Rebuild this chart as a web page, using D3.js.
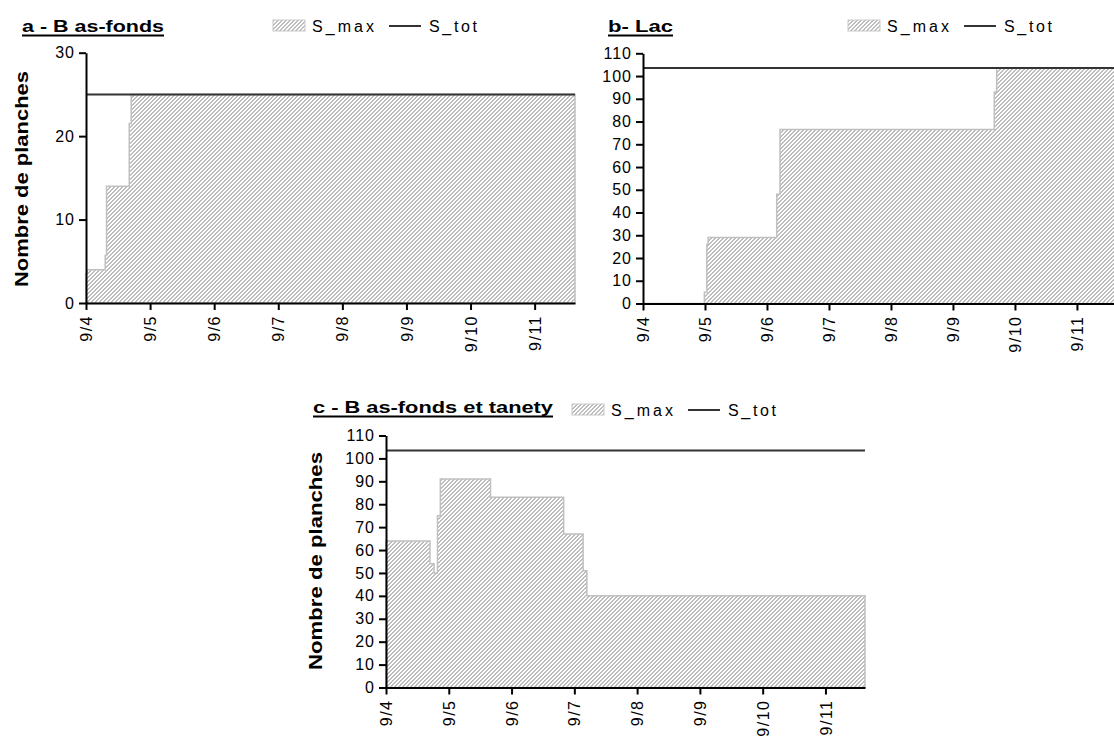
<!DOCTYPE html>
<html><head><meta charset="utf-8">
<script src="https://cdn.jsdelivr.net/npm/d3@7"></script>
<style>
body{margin:0;background:#fff}
svg{display:block}
text{font-family:"Liberation Sans",Arial,sans-serif;fill:#000}
</style></head>
<body><svg id="chart" width="1114" height="740"></svg>
<script>
// ---- data ----
const dateLabels = ["9/4","9/5","9/6","9/7","9/8","9/9","9/10","9/11"];
const lastDay = 7.63; // days after 9/4 at end of record
const seriesNames = ["S_max","S_tot"];

const titleA = "a - B as-fonds";
const daysA = [0, 0.02, 0.02, 0.30, 0.30, 0.32, 0.32, 0.675, 0.675, 0.705, 0.705, 7.63];
const smaxA = [3.5, 3.5, 4, 4, 5.7, 5.7, 14, 14, 21.5, 21.5, 25, 25];
const stotA = 25;
const yTicksA = [0, 10, 20, 30];

const titleB = "b- Lac";
const daysB = [0, 0.99, 0.99, 1.03, 1.03, 1.05, 1.05, 2.157, 2.157, 2.21, 2.21, 5.666, 5.666, 5.705, 5.705, 7.63];
const smaxB = [0, 0, 5, 5, 26, 26, 29, 29, 48, 48, 76.5, 76.5, 93, 93, 103.5, 103.5];
const stotB = 103.5;
const yTicksB = [0,10,20,30,40,50,60,70,80,90,100,110];

const titleC = "c - B as-fonds et tanety";
const daysC = [0, 0.70, 0.70, 0.765, 0.765, 0.82, 0.82, 0.865, 0.865, 1.665, 1.665, 2.83, 2.83, 3.14, 3.14, 3.20, 3.20, 7.63];
const smaxC = [64, 64, 54, 54, 50, 50, 75, 75, 91, 91, 83, 83, 67, 67, 51, 51, 40, 40];
const stotC = 103.5;
const yTicksC = [0,10,20,30,40,50,60,70,80,90,100,110];

const yTitle = "Nombre de planches";

// ---- layout (positions only) ----
const panels = [
  {title:titleA, days:daysA, vals:smaxA, stot:stotA, yticks:yTicksA,
   x0:86, x1:575, y0:303, y1:52.7, titleX:22, titleW:142, titleY:32,
   legX:273, legY:32, yTitleX:22, yTitleY:179, yTitleW:216},
  {title:titleB, days:daysB, vals:smaxB, stot:stotB, yticks:yTicksB,
   x0:643, x1:1116, y0:303.5, y1:53.3, titleX:608, titleW:65, titleY:32,
   legX:848, legY:32, yTitleX:null},
  {title:titleC, days:daysC, vals:smaxC, stot:stotC, yticks:yTicksC,
   x0:386, x1:865, y0:687.5, y1:435.5, titleX:313, titleW:240, titleY:413,
   legX:572, legY:416, yTitleX:316, yTitleY:561, yTitleW:218}
];

const svg = d3.select("#chart");
const defs = svg.append("defs");
const pat = defs.append("pattern").attr("id","hatch").attr("patternUnits","userSpaceOnUse")
  .attr("width",4).attr("height",4);
pat.append("rect").attr("width",4).attr("height",4).attr("fill","#fff");
// pixel "/" diagonal stripes, 2px grey + 2px white
const cells = [];
for (let py = 0; py < 4; py++) for (let px = 0; px < 4; px++) if (((px + py) % 4) < 2) cells.push([px, py]);
pat.selectAll("rect.px").data(cells).enter().append("rect").attr("class","px")
  .attr("x",d=>d[0]).attr("y",d=>d[1]).attr("width",1).attr("height",1)
  .attr("fill","#bdbdbd").attr("shape-rendering","crispEdges");

function drawPanel(p){
  const g = svg.append("g");
  const x = d3.scaleLinear().domain([0, lastDay]).range([p.x0, p.x1]);
  const yMax = p.yticks[p.yticks.length-1];
  const y = d3.scaleLinear().domain([0, yMax]).range([p.y0, p.y1]);
  const data = p.days.map((d,i)=>({t:d, v:p.vals[i]}));

  g.append("path").datum(data)
    .attr("d", d3.area().x(d=>x(d.t)).y0(y(0)).y1(d=>y(d.v)))
    .attr("fill","url(#hatch)").attr("stroke","#c0c0c0").attr("stroke-width",1.5);

  g.append("line").attr("x1",x(0)).attr("x2",x(lastDay))
    .attr("y1",y(p.stot)).attr("y2",y(p.stot))
    .attr("stroke","#333").attr("stroke-width",2);

  const ya = g.append("g").attr("transform",`translate(${x(0)},0)`)
    .call(d3.axisLeft(y).tickValues(p.yticks).tickSize(7).tickPadding(4).tickSizeOuter(0));
  const xa = g.append("g").attr("transform",`translate(0,${y(0)})`)
    .call(d3.axisBottom(x).tickValues(d3.range(dateLabels.length)).tickFormat(i=>dateLabels[i])
      .tickSize(7).tickSizeOuter(0));
  [ya, xa].forEach(a=>{
    a.select(".domain").attr("stroke","#000").attr("stroke-width",2);
    a.selectAll(".tick line").attr("stroke","#000").attr("stroke-width",2);
    a.selectAll("text").attr("font-size",16).attr("fill","#000").style("letter-spacing","1px")
      .attr("font-family",'"Liberation Sans",Arial,sans-serif');
  });
  xa.selectAll(".tick text").attr("transform","rotate(-90)").attr("text-anchor","end")
    .attr("x",-12).attr("y",0).attr("dy","0.35em").attr("font-size",16).style("letter-spacing","1.5px");

  // title
  g.append("text").attr("x",p.titleX).attr("y",p.titleY)
    .attr("font-size",17).attr("font-weight","bold")
    .attr("textLength",p.titleW).attr("lengthAdjust","spacingAndGlyphs").text(p.title);
  g.append("line").attr("x1",p.titleX).attr("x2",p.titleX+p.titleW)
    .attr("y1",p.titleY+3.5).attr("y2",p.titleY+3.5).attr("stroke","#000").attr("stroke-width",2);

  // legend
  const lg = g.append("g").attr("transform",`translate(${p.legX},${p.legY})`);
  lg.append("rect").attr("x",0).attr("y",-12).attr("width",32).attr("height",11)
    .attr("fill","url(#hatch)").attr("stroke","#c8c8c8").attr("stroke-width",1);
  lg.append("text").attr("x",39).attr("y",0).attr("font-size",16)
    .attr("textLength",62).attr("lengthAdjust","spacing").text(seriesNames[0]);
  lg.append("line").attr("x1",116).attr("x2",148).attr("y1",-6).attr("y2",-6)
    .attr("stroke","#333").attr("stroke-width",2);
  lg.append("text").attr("x",156).attr("y",0).attr("font-size",16)
    .attr("textLength",48).attr("lengthAdjust","spacing").text(seriesNames[1]);

  if(p.yTitleX!==null){
    g.append("text").attr("transform",`translate(${p.yTitleX},${p.yTitleY}) rotate(-90)`)
      .attr("text-anchor","middle").attr("dy","0.35em")
      .attr("font-size",18).attr("font-weight","bold")
      .attr("textLength",p.yTitleW).attr("lengthAdjust","spacingAndGlyphs").text(yTitle);
  }
}
panels.forEach(drawPanel);
</script></body></html>
